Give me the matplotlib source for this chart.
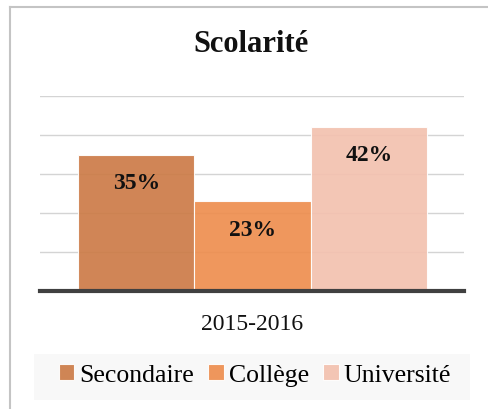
import matplotlib
matplotlib.use("Agg")
import matplotlib.pyplot as plt
from matplotlib.lines import Line2D
from matplotlib.patches import Rectangle

# data
categories = ["Secondaire", "Collège", "Université"]
values = [35, 23, 42]
colors = ["#CC7B47", "#EE8E4F", "#F3C1AF"]
period = "2015-2016"
title = "Scolarité"

plt.rcParams["font.family"] = ["Liberation Serif", "DejaVu Serif"]

W, H = 489, 410
fig = plt.figure(figsize=(W / 100, H / 100), dpi=100)

def fx(px):
    return px / W

def fy(py):
    return 1 - py / H

# outer chart border (cropped on right and bottom)
fig.add_artist(Line2D([fx(10), fx(10)], [fy(8), 0], color="#C4C4C4", lw=1.5, transform=fig.transFigure))
fig.add_artist(Line2D([fx(10), 1], [fy(8), fy(8)], color="#C4C4C4", lw=1.5, transform=fig.transFigure))

ax = fig.add_axes([fx(40), fy(292), fx(464) - fx(40), fy(97) - fy(292)])
x = range(len(categories))
bars = ax.bar(x, values, width=1.0, color=colors, alpha=0.92,
              edgecolor="#FFFFFF", linewidth=0.8, zorder=2)
for b, c in zip(bars, categories):
    b.set_label(c)

ax.set_xlim(-0.827, 2.818)
ax.set_ylim(0, 50)
ax.set_yticks(range(10, 51, 10))
ax.yaxis.grid(True, color="#D4D4D4", lw=1.0, zorder=0)
ax.set_axisbelow(True)
ax.tick_params(left=False, bottom=False, labelleft=False, labelbottom=False)
for s in ["top", "right", "left"]:
    ax.spines[s].set_visible(False)
ax.spines["bottom"].set_color("#404040")
ax.spines["bottom"].set_linewidth(3)
ax.spines["bottom"].set_zorder(3)

for b, v in zip(bars, values):
    ax.annotate(f"{v}%", (b.get_x() + b.get_width() / 2, v), xytext=(0, -20),
                textcoords="offset points", ha="center", va="center",
                fontsize=17, fontweight="bold", color="#111111")

fig.text(fx(251), fy(45), title, ha="center", va="center", fontsize=22, fontweight="bold", color="#111111")
fig.text(fx(252), fy(324), period, ha="center", va="center", fontsize=17, color="#111111")

# legend
fig.add_artist(Rectangle((fx(34), fy(401)), fx(470) - fx(34), fy(355) - fy(401),
                         facecolor="#F8F8F8", edgecolor="none", transform=fig.transFigure, zorder=0))
fig.legend(handles=list(bars), labels=categories, loc="center", bbox_to_anchor=(fx(255), fy(376)),
           ncol=3, frameon=False, fontsize=18.5, handlelength=0.6, handleheight=0.6,
           handletextpad=0.2, columnspacing=0.55, borderpad=0.0)

fig.savefig("out.png", dpi=100)
